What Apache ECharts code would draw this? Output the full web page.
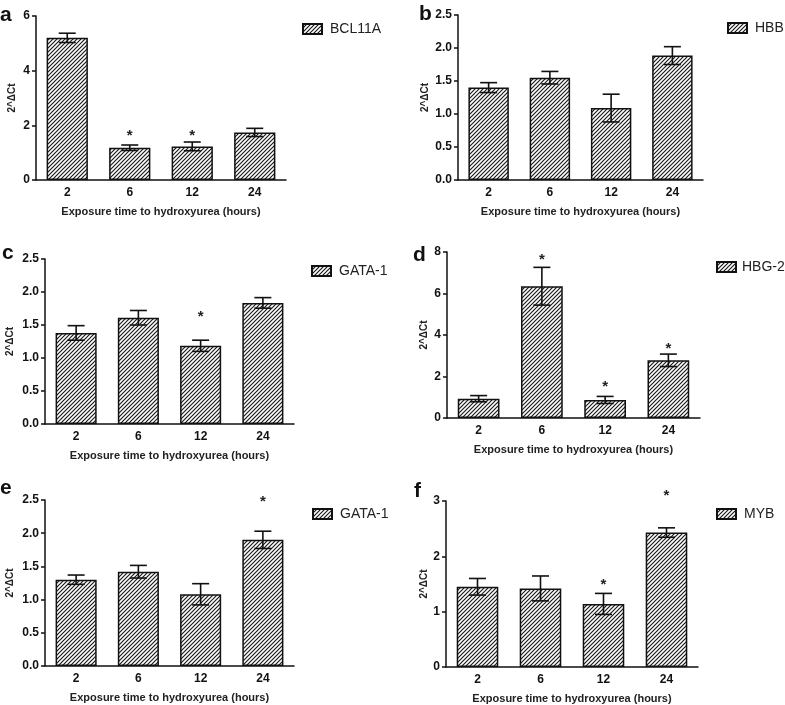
<!DOCTYPE html>
<html>
<head>
<meta charset="utf-8">
<script src="https://cdn.jsdelivr.net/npm/echarts@6/dist/echarts.min.js"></script>
<style>
  html, body { margin: 0; padding: 0; background: #fff; }
  #chart { width: 785px; height: 705px; }
</style>
</head>
<body>
<div id="chart"></div>
<script>
// exposure times (hours)
const categories = ['2', '6', '12', '24'];

// panel a - BCL11A
const bcl11aMean = [5.2, 1.18, 1.23, 1.74];
const bcl11aErr = [0.17, 0.10, 0.16, 0.15];
const bcl11aStar = [null, 1.65, 1.65, null];
// panel b - HBB
const hbbMean = [1.40, 1.55, 1.09, 1.885];
const hbbErr = [0.075, 0.095, 0.21, 0.135];
const hbbStar = [null, null, null, null];
// panel c - GATA-1
const gataCMean = [1.38, 1.61, 1.185, 1.835];
const gataCErr = [0.11, 0.11, 0.085, 0.08];
const gataCStar = [null, null, 1.64, null];
// panel d - HBG-2
const hbg2Mean = [0.93, 6.35, 0.87, 2.78];
const hbg2Err = [0.15, 0.91, 0.17, 0.30];
const hbg2Star = [null, 7.68, 1.53, 3.37];
// panel e - GATA-1
const gataEMean = [1.30, 1.42, 1.08, 1.90];
const gataEErr = [0.07, 0.095, 0.16, 0.13];
const gataEStar = [null, null, null, 2.48];
// panel f - MYB
const mybMean = [1.45, 1.42, 1.14, 2.43];
const mybErr = [0.15, 0.225, 0.19, 0.085];
const mybStar = [null, null, 1.51, 3.12];

// y axis ranges / tick steps
const yMax = [6, 2.5, 2.5, 8, 2.5, 3];
const yStep = [2, 0.5, 0.5, 2, 0.5, 1];
const yDecimals = [0, 1, 1, 0, 1, 0];

const panelLetters = ['a', 'b', 'c', 'd', 'e', 'f'];
const genes = ['BCL11A', 'HBB', 'GATA-1', 'HBG-2', 'GATA-1', 'MYB'];
const means = [bcl11aMean, hbbMean, gataCMean, hbg2Mean, gataEMean, mybMean];
const errs = [bcl11aErr, hbbErr, gataCErr, hbg2Err, gataEErr, mybErr];
const stars = [bcl11aStar, hbbStar, gataCStar, hbg2Star, gataEStar, mybStar];

// layout of the six plots
const grids = [
  { left: 36, top: 16, width: 250, height: 164 },
  { left: 458, top: 15, width: 245, height: 165 },
  { left: 45, top: 259, width: 249, height: 165 },
  { left: 447, top: 252, width: 253, height: 166 },
  { left: 45, top: 500, width: 249, height: 166 },
  { left: 446, top: 501, width: 252, height: 166 }
];
const yNameGap = [19, 28, 30, 18, 30, 17];
const legendPos = [[302, 22], [727, 21], [311, 264], [716, 260], [312, 507], [716, 507]];
const legendTextPad = [3, 3, 3, 1, 3, 3];
const letterPos = [[0, 15], [419, 14], [2, 253], [413, 255], [0, 488], [414, 491]];

function makeHatch() {
  const c = document.createElement('canvas');
  c.width = 4; c.height = 4;
  const ctx = c.getContext('2d');
  ctx.fillStyle = '#fff';
  ctx.fillRect(0, 0, 4, 4);
  ctx.strokeStyle = '#1a1a1a';
  ctx.lineWidth = 1.2;
  ctx.beginPath();
  ctx.moveTo(0, 4); ctx.lineTo(4, 0);
  ctx.moveTo(-1, 1); ctx.lineTo(1, -1);
  ctx.moveTo(3, 5); ctx.lineTo(5, 3);
  ctx.stroke();
  return c;
}
const hatch = { image: makeHatch(), repeat: 'repeat' };

const font = 'Liberation Sans, Arial, sans-serif';
const axisColor = '#111';

let option = {
  animation: false,
  backgroundColor: '#fff',
  grid: [], xAxis: [], yAxis: [], legend: [], series: [],
  graphic: []
};

for (let i = 0; i < 6; i++) {
  option.grid.push(grids[i]);
  option.xAxis.push({
    type: 'category',
    gridIndex: i,
    data: categories,
    name: 'Exposure time to hydroxyurea (hours)',
    nameLocation: 'middle',
    nameGap: 26,
    nameTextStyle: { fontFamily: font, fontWeight: 'bold', fontSize: 11, color: '#222' },
    axisLine: { lineStyle: { color: axisColor, width: 1.5 } },
    axisTick: { alignWithLabel: true, length: 3, lineStyle: { color: axisColor, width: 1.5 } },
    axisLabel: { fontFamily: font, fontWeight: 'bold', fontSize: 12, color: '#111', margin: 7 },
    splitLine: { show: false }
  });
  option.yAxis.push({
    type: 'value',
    gridIndex: i,
    min: 0,
    max: yMax[i],
    interval: yStep[i],
    name: '2^\u0394Ct',
    nameLocation: 'middle',
    nameGap: yNameGap[i],
    nameTextStyle: { fontFamily: font, fontWeight: 'bold', fontSize: 10, color: '#222' },
    axisLine: { show: true, lineStyle: { color: axisColor, width: 1.5 } },
    axisTick: { show: true, length: 4, lineStyle: { color: axisColor, width: 1.5 } },
    axisLabel: {
      fontFamily: font, fontWeight: 'bold', fontSize: 12, color: '#111', margin: 6,
      formatter: (v => v.toFixed(yDecimals[i]))
    },
    splitLine: { show: false }
  });
  option.legend.push({
    data: [genes[i]],
    left: legendPos[i][0],
    top: legendPos[i][1],
    padding: 0,
    itemWidth: 19,
    itemHeight: 10,
    itemGap: 9,
    icon: 'rect',
    selectedMode: false,
    textStyle: { fontFamily: font, fontSize: 14, color: '#222', padding: [0, 0, 0, legendTextPad[i]] }
  });
  option.series.push({
    name: genes[i],
    type: 'bar',
    xAxisIndex: i,
    yAxisIndex: i,
    barWidth: '66%',
    data: means[i],
    itemStyle: { color: hatch, borderColor: '#111', borderWidth: 1.5 }
  });
  option.series.push({
    type: 'custom',
    xAxisIndex: i,
    yAxisIndex: i,
    data: means[i].map((m, k) => [k, m - errs[i][k], m + errs[i][k]]),
    z: 5,
    renderItem: function (params, api) {
      const lo = api.coord([api.value(0), api.value(1)]);
      const hi = api.coord([api.value(0), api.value(2)]);
      const hw = 8.5;
      const st = { stroke: '#111', lineWidth: 1.6 };
      return {
        type: 'group',
        children: [
          { type: 'line', shape: { x1: lo[0], y1: lo[1], x2: hi[0], y2: hi[1] }, style: st },
          { type: 'line', shape: { x1: lo[0] - hw, y1: lo[1], x2: lo[0] + hw, y2: lo[1] }, style: st },
          { type: 'line', shape: { x1: hi[0] - hw, y1: hi[1], x2: hi[0] + hw, y2: hi[1] }, style: st }
        ]
      };
    }
  });
  const starData = [];
  stars[i].forEach((s, k) => { if (s !== null) starData.push([k, s]); });
  option.series.push({
    type: 'custom',
    xAxisIndex: i,
    yAxisIndex: i,
    data: starData,
    z: 5,
    renderItem: function (params, api) {
      const p = api.coord([api.value(0), api.value(1)]);
      return {
        type: 'text',
        x: p[0],
        y: p[1] + 1,
        style: { text: '*', font: 'bold 15px ' + font, fill: '#222', align: 'center', verticalAlign: 'middle' }
      };
    }
  });
  option.graphic.push({
    type: 'text',
    x: letterPos[i][0],
    y: letterPos[i][1],
    style: { text: panelLetters[i], font: 'bold 21px ' + font, fill: '#111', verticalAlign: 'middle' }
  });
}

let myChart = echarts.init(document.getElementById('chart'));
myChart.setOption(option);
</script>
</body>
</html>
